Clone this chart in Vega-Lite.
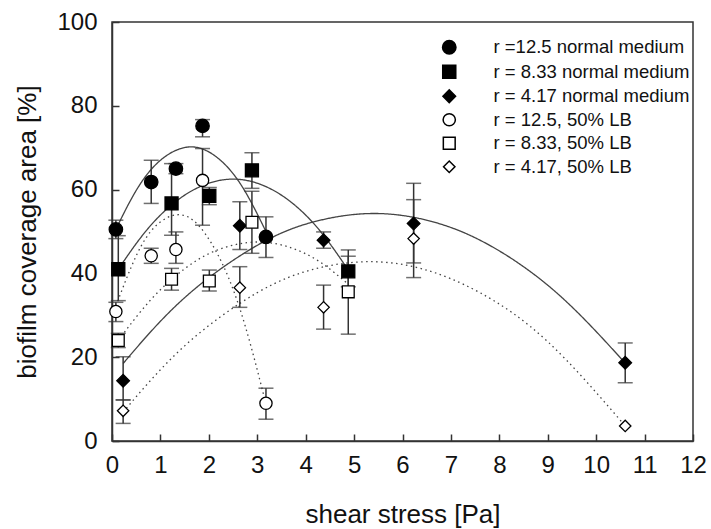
{
  "$schema": "https://vega.github.io/schema/vega-lite/v6.json",
  "width": 581,
  "height": 419,
  "autosize": {"type": "none"},
  "padding": {"left": 112, "top": 22, "right": 18, "bottom": 88},
  "background": "white",
  "config": {
    "font": "Liberation Sans",
    "view": {"stroke": "#333", "strokeWidth": 1.5},
    "axis": {"grid": false, "domainColor": "#333", "domainWidth": 1.5, "tickColor": "#333", "tickWidth": 1.5, "labelColor": "#111", "titleColor": "#111", "labelFont": "Liberation Sans", "titleFont": "Liberation Sans", "labelFontSize": 24, "titleFontSize": 26, "titleFontWeight": "normal"},
    "legend": {"orient": "none", "legendX": 328, "legendY": 16, "labelFont": "Liberation Sans", "labelFontSize": 18.5, "labelColor": "#111", "labelLimit": 400, "rowPadding": 4.5, "labelOffset": 35}
  },
  "datasets": {
    "points": [
      {"series": "r =12.5 normal medium", "x": 0.08, "y": 50.5, "lo": 48.3, "hi": 52.7},
      {"series": "r =12.5 normal medium", "x": 0.81, "y": 61.8, "lo": 56.7, "hi": 67.0},
      {"series": "r =12.5 normal medium", "x": 1.32, "y": 65.0, "lo": 63.8, "hi": 66.2},
      {"series": "r =12.5 normal medium", "x": 1.87, "y": 75.2, "lo": 72.6, "hi": 76.7},
      {"series": "r =12.5 normal medium", "x": 3.18, "y": 48.7, "lo": 43.8, "hi": 53.5},
      {"series": "r = 8.33 normal medium", "x": 0.13, "y": 41.0, "lo": 33.5, "hi": 49.0},
      {"series": "r = 8.33 normal medium", "x": 1.23, "y": 56.7, "lo": 49.1, "hi": 66.2},
      {"series": "r = 8.33 normal medium", "x": 2.01, "y": 58.5, "lo": 56.4, "hi": 60.5},
      {"series": "r = 8.33 normal medium", "x": 2.89, "y": 64.6, "lo": 60.3, "hi": 68.8},
      {"series": "r = 8.33 normal medium", "x": 4.88, "y": 40.5, "lo": 36.8, "hi": 45.6},
      {"series": "r = 4.17 normal medium", "x": 0.23, "y": 14.4, "lo": 9.8, "hi": 20.1},
      {"series": "r = 4.17 normal medium", "x": 2.64, "y": 51.4, "lo": 45.7, "hi": 57.1},
      {"series": "r = 4.17 normal medium", "x": 4.37, "y": 47.9, "lo": 46.0, "hi": 49.9},
      {"series": "r = 4.17 normal medium", "x": 6.23, "y": 51.9, "lo": 42.5, "hi": 61.5},
      {"series": "r = 4.17 normal medium", "x": 10.6, "y": 18.7, "lo": 13.9, "hi": 23.4},
      {"series": "r = 12.5, 50% LB", "x": 0.08, "y": 30.9, "lo": 28.5, "hi": 33.1},
      {"series": "r = 12.5, 50% LB", "x": 0.81, "y": 44.2, "lo": 42.4, "hi": 46.0},
      {"series": "r = 12.5, 50% LB", "x": 1.32, "y": 45.7, "lo": 42.4, "hi": 49.9},
      {"series": "r = 12.5, 50% LB", "x": 1.87, "y": 62.2, "lo": 51.5, "hi": 69.8},
      {"series": "r = 12.5, 50% LB", "x": 3.18, "y": 9.0, "lo": 5.2, "hi": 12.6},
      {"series": "r = 8.33, 50% LB", "x": 0.13, "y": 24.0, "lo": 22.3, "hi": 25.7},
      {"series": "r = 8.33, 50% LB", "x": 1.23, "y": 38.6, "lo": 36.0, "hi": 41.2},
      {"series": "r = 8.33, 50% LB", "x": 2.01, "y": 38.2, "lo": 35.8, "hi": 40.8},
      {"series": "r = 8.33, 50% LB", "x": 2.89, "y": 52.2, "lo": 44.8, "hi": 59.6},
      {"series": "r = 8.33, 50% LB", "x": 4.88, "y": 35.6, "lo": 25.5, "hi": 44.1},
      {"series": "r = 4.17, 50% LB", "x": 0.23, "y": 7.2, "lo": 4.2, "hi": 9.8},
      {"series": "r = 4.17, 50% LB", "x": 2.64, "y": 36.6, "lo": 31.9, "hi": 41.6},
      {"series": "r = 4.17, 50% LB", "x": 4.37, "y": 31.9, "lo": 26.7, "hi": 37.2},
      {"series": "r = 4.17, 50% LB", "x": 6.23, "y": 48.3, "lo": 39.0, "hi": 57.6},
      {"series": "r = 4.17, 50% LB", "x": 10.6, "y": 3.6}
    ],
    "curves": [
      {"curve": "A", "medium": "normal", "x": 0.08, "y": 50.5},
      {"curve": "A", "medium": "normal", "x": 0.5, "y": 59.8},
      {"curve": "A", "medium": "normal", "x": 1.0, "y": 67.0},
      {"curve": "A", "medium": "normal", "x": 1.62, "y": 70.2},
      {"curve": "A", "medium": "normal", "x": 2.2, "y": 67.4},
      {"curve": "A", "medium": "normal", "x": 2.7, "y": 60.5},
      {"curve": "A", "medium": "normal", "x": 3.18, "y": 50.0},
      {"curve": "B", "medium": "normal", "x": 0.13, "y": 41.0},
      {"curve": "B", "medium": "normal", "x": 0.7, "y": 50.1},
      {"curve": "B", "medium": "normal", "x": 1.3, "y": 57.0},
      {"curve": "B", "medium": "normal", "x": 1.9, "y": 61.1},
      {"curve": "B", "medium": "normal", "x": 2.5, "y": 62.5},
      {"curve": "B", "medium": "normal", "x": 3.1, "y": 61.1},
      {"curve": "B", "medium": "normal", "x": 3.7, "y": 57.0},
      {"curve": "B", "medium": "normal", "x": 4.3, "y": 50.1},
      {"curve": "B", "medium": "normal", "x": 4.88, "y": 40.8},
      {"curve": "C", "medium": "normal", "x": 0.23, "y": 18.5},
      {"curve": "C", "medium": "normal", "x": 1.5, "y": 34.2},
      {"curve": "C", "medium": "normal", "x": 3.0, "y": 46.7},
      {"curve": "C", "medium": "normal", "x": 4.2, "y": 52.4},
      {"curve": "C", "medium": "normal", "x": 5.4, "y": 54.3},
      {"curve": "C", "medium": "normal", "x": 6.6, "y": 52.4},
      {"curve": "C", "medium": "normal", "x": 7.8, "y": 46.7},
      {"curve": "C", "medium": "normal", "x": 9.2, "y": 35.2},
      {"curve": "C", "medium": "normal", "x": 10.6, "y": 18.6},
      {"curve": "D", "medium": "LB", "x": 0.08, "y": 32.2},
      {"curve": "D", "medium": "LB", "x": 0.5, "y": 44.2},
      {"curve": "D", "medium": "LB", "x": 0.9, "y": 51.3},
      {"curve": "D", "medium": "LB", "x": 1.35, "y": 54.0},
      {"curve": "D", "medium": "LB", "x": 1.8, "y": 51.3},
      {"curve": "D", "medium": "LB", "x": 2.3, "y": 41.8},
      {"curve": "D", "medium": "LB", "x": 2.75, "y": 27.5},
      {"curve": "D", "medium": "LB", "x": 3.18, "y": 8.8},
      {"curve": "E", "medium": "LB", "x": 0.13, "y": 24.0},
      {"curve": "E", "medium": "LB", "x": 0.8, "y": 33.7},
      {"curve": "E", "medium": "LB", "x": 1.5, "y": 41.1},
      {"curve": "E", "medium": "LB", "x": 2.2, "y": 45.7},
      {"curve": "E", "medium": "LB", "x": 3.0, "y": 47.5},
      {"curve": "E", "medium": "LB", "x": 3.7, "y": 46.1},
      {"curve": "E", "medium": "LB", "x": 4.3, "y": 42.7},
      {"curve": "E", "medium": "LB", "x": 4.88, "y": 37.4},
      {"curve": "F", "medium": "LB", "x": 0.23, "y": 6.9},
      {"curve": "F", "medium": "LB", "x": 1.5, "y": 22.7},
      {"curve": "F", "medium": "LB", "x": 3.0, "y": 35.4},
      {"curve": "F", "medium": "LB", "x": 4.2, "y": 41.1},
      {"curve": "F", "medium": "LB", "x": 5.3, "y": 42.8},
      {"curve": "F", "medium": "LB", "x": 6.4, "y": 41.1},
      {"curve": "F", "medium": "LB", "x": 7.6, "y": 35.4},
      {"curve": "F", "medium": "LB", "x": 9.0, "y": 23.7},
      {"curve": "F", "medium": "LB", "x": 10.6, "y": 3.6}
    ]
  },
  "layer": [
    {
      "data": {"name": "curves"},
      "mark": {"type": "line", "interpolate": "natural", "color": "#444", "strokeWidth": 1.3},
      "encoding": {
        "x": {"field": "x", "type": "quantitative", "scale": {"domain": [0, 12], "nice": false, "zero": false}, "axis": {"title": "shear stress [Pa]", "values": [0,1,2,3,4,5,6,7,8,9,10,11,12], "tickSize": -7, "labelPadding": 19, "titlePadding": 24, "labelFlush": false}},
        "y": {"field": "y", "type": "quantitative", "scale": {"domain": [0, 100], "nice": false}, "axis": {"title": "biofilm coverage area [%]", "values": [0,20,40,60,80,100], "tickSize": -7, "labelPadding": 22, "titlePadding": 16, "labelFlush": false}},
        "detail": {"field": "curve"},
        "strokeDash": {"field": "medium", "type": "nominal", "scale": {"domain": ["normal", "LB"], "range": [[1, 0], [1.5, 3.5]]}, "legend": null}
      }
    },
    {
      "data": {"name": "points"},
      "transform": [{"filter": "isValid(datum.lo)"}],
      "mark": {"type": "rule", "color": "#333", "strokeWidth": 1.5},
      "encoding": {"x": {"field": "x", "type": "quantitative"}, "y": {"field": "lo", "type": "quantitative"}, "y2": {"field": "hi"}}
    },
    {
      "data": {"name": "points"},
      "transform": [{"filter": "isValid(datum.lo)"}],
      "mark": {"type": "tick", "orient": "horizontal", "color": "#333", "size": 15, "thickness": 1.5},
      "encoding": {"x": {"field": "x", "type": "quantitative"}, "y": {"field": "lo", "type": "quantitative"}}
    },
    {
      "data": {"name": "points"},
      "transform": [{"filter": "isValid(datum.hi)"}],
      "mark": {"type": "tick", "orient": "horizontal", "color": "#333", "size": 15, "thickness": 1.5},
      "encoding": {"x": {"field": "x", "type": "quantitative"}, "y": {"field": "hi", "type": "quantitative"}}
    },
    {
      "data": {"name": "points"},
      "mark": {"type": "point", "filled": true, "stroke": "black", "strokeWidth": 1.3, "opacity": 1},
      "encoding": {
        "x": {"field": "x", "type": "quantitative"},
        "y": {"field": "y", "type": "quantitative"},
        "shape": {"field": "series", "type": "nominal", "sort": null, "scale": {"domain": ["r =12.5 normal medium", "r = 8.33 normal medium", "r = 4.17 normal medium", "r = 12.5, 50% LB", "r = 8.33, 50% LB", "r = 4.17, 50% LB"], "range": ["circle", "square", "diamond", "circle", "square", "diamond"]}, "title": null, "legend": {"encode": {"symbols": {"update": {"stroke": {"value": "black"}, "strokeWidth": {"value": 1.3}, "opacity": {"value": 1}}}}}},
        "fill": {"field": "series", "type": "nominal", "sort": null, "scale": {"domain": ["r =12.5 normal medium", "r = 8.33 normal medium", "r = 4.17 normal medium", "r = 12.5, 50% LB", "r = 8.33, 50% LB", "r = 4.17, 50% LB"], "range": ["black", "black", "black", "white", "white", "white"]}, "title": null, "legend": {"encode": {"symbols": {"update": {"stroke": {"value": "black"}, "strokeWidth": {"value": 1.3}, "opacity": {"value": 1}}}}}},
        "size": {"field": "series", "type": "nominal", "sort": null, "scale": {"domain": ["r =12.5 normal medium", "r = 8.33 normal medium", "r = 4.17 normal medium", "r = 12.5, 50% LB", "r = 8.33, 50% LB", "r = 4.17, 50% LB"], "range": [180, 130, 220, 140, 110, 170]}, "title": null, "legend": {"encode": {"symbols": {"update": {"stroke": {"value": "black"}, "strokeWidth": {"value": 1.3}, "opacity": {"value": 1}}}}}}
      }
    }
  ]
}
